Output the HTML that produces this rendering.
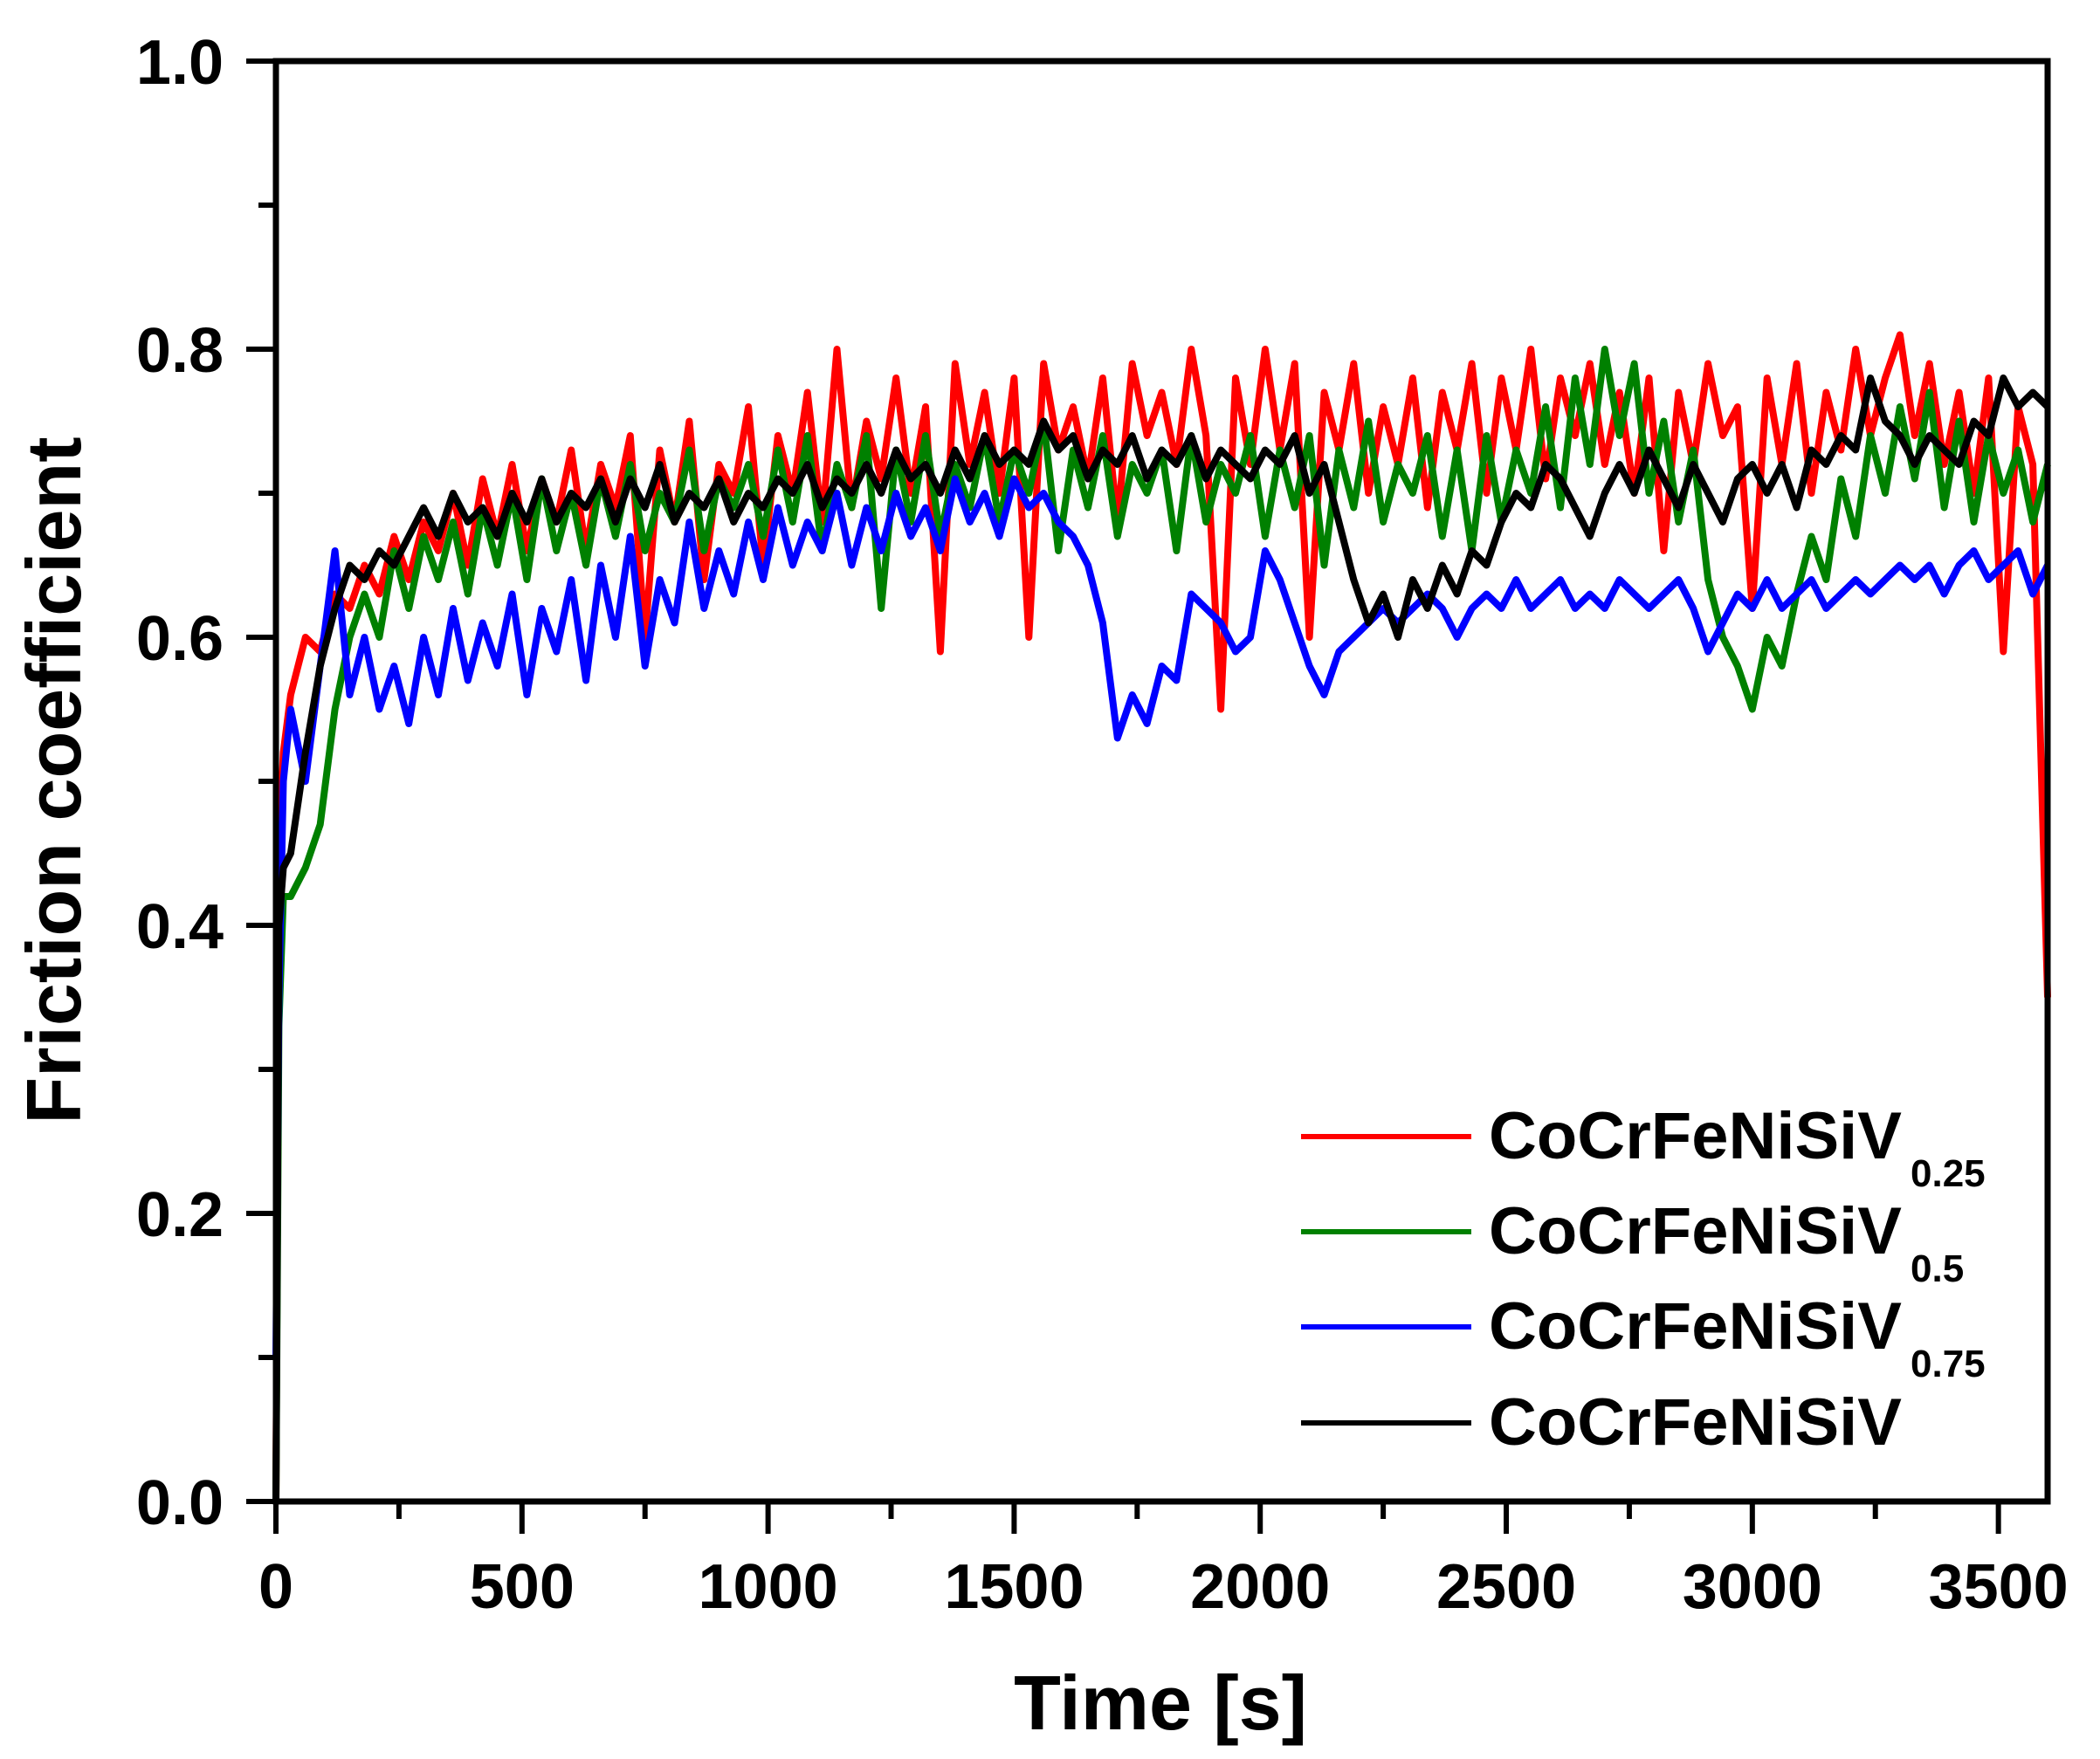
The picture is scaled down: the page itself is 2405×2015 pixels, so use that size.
<!DOCTYPE html>
<html><head><meta charset="utf-8"><style>
html,body{margin:0;padding:0;background:#fff;}
svg{display:block;font-family:"Liberation Sans",Arial,sans-serif;font-weight:bold;}
</style></head><body>
<svg id="chart" width="2405" height="2015" viewBox="0 0 2405 2015" xmlns="http://www.w3.org/2000/svg">
<g id="series"></g>
<g id="axes"></g>
<text x="1329" y="1981" font-size="88" text-anchor="middle">Time [s]</text>
<text transform="translate(92,894) rotate(-90)" font-size="88" text-anchor="middle">Friction coefficient</text>
<g id="legend"></g>
</svg>
<script>
const xTicks=[0,500,1000,1500,2000,2500,3000,3500];
const yTicks=[0.0,0.2,0.4,0.6,0.8,1.0];
const yTickLabels=["0.0","0.2","0.4","0.6","0.8","1.0"];
const seriesNames=["CoCrFeNiSiV","CoCrFeNiSiV","CoCrFeNiSiV","CoCrFeNiSiV"];
const seriesSubs=["0.25","0.5","0.75",""];
const seriesColors=["#ff0000","#008000","#0000ff","#000000"];
const times=[0,6,15];
for(let k=1;k<=120;k++){times.push(30*k);}
const red=[0,0.45,0.52,
0.56,0.60,0.59,0.63,0.62,0.65,0.63,0.67,0.64,0.68,
0.66,0.70,0.65,0.71,0.67,0.72,0.66,0.71,0.68,0.73,
0.66,0.72,0.69,0.74,0.60,0.73,0.68,0.75,0.64,0.72,
0.70,0.76,0.65,0.74,0.70,0.77,0.68,0.80,0.69,0.75,
0.71,0.78,0.70,0.76,0.59,0.79,0.72,0.77,0.70,0.78,
0.60,0.79,0.73,0.76,0.71,0.78,0.68,0.79,0.74,0.77,
0.72,0.80,0.74,0.55,0.78,0.72,0.80,0.73,0.79,0.60,
0.77,0.73,0.79,0.70,0.76,0.72,0.78,0.69,0.77,0.73,
0.79,0.70,0.78,0.73,0.80,0.71,0.78,0.74,0.79,0.72,
0.77,0.70,0.78,0.66,0.77,0.72,0.79,0.74,0.76,0.62,
0.78,0.72,0.79,0.70,0.77,0.73,0.80,0.74,0.78,0.81,
0.74,0.79,0.72,0.77,0.70,0.78,0.59,0.76,0.72,0.35];
const green=[0,0.33,0.42,
0.42,0.44,0.47,0.55,0.60,0.63,0.60,0.66,0.62,0.67,
0.64,0.68,0.63,0.69,0.65,0.70,0.64,0.71,0.66,0.70,
0.65,0.71,0.67,0.72,0.66,0.70,0.68,0.73,0.66,0.71,
0.69,0.72,0.67,0.73,0.68,0.74,0.66,0.72,0.69,0.74,
0.62,0.73,0.68,0.74,0.67,0.72,0.69,0.74,0.68,0.73,
0.70,0.75,0.66,0.73,0.69,0.74,0.67,0.72,0.70,0.73,
0.66,0.74,0.68,0.72,0.70,0.74,0.67,0.73,0.69,0.74,
0.65,0.73,0.69,0.75,0.68,0.72,0.70,0.74,0.67,0.73,
0.66,0.74,0.68,0.73,0.70,0.76,0.69,0.78,0.72,0.80,
0.74,0.79,0.70,0.75,0.68,0.73,0.64,0.60,0.58,0.55,
0.60,0.58,0.63,0.67,0.64,0.71,0.67,0.74,0.70,0.76,
0.71,0.77,0.69,0.75,0.68,0.74,0.70,0.73,0.68,0.72];
const blue=[0.1,0.35,0.50,
0.55,0.50,0.58,0.66,0.56,0.60,0.55,0.58,0.54,0.60,
0.56,0.62,0.57,0.61,0.58,0.63,0.56,0.62,0.59,0.64,
0.57,0.65,0.60,0.67,0.58,0.64,0.61,0.68,0.62,0.66,
0.63,0.68,0.64,0.69,0.65,0.68,0.66,0.70,0.65,0.69,
0.66,0.70,0.67,0.69,0.66,0.71,0.68,0.70,0.67,0.71,
0.69,0.70,0.68,0.67,0.65,0.61,0.53,0.56,0.54,0.58,
0.57,0.63,0.62,0.61,0.59,0.60,0.66,0.64,0.61,0.58,
0.56,0.59,0.60,0.61,0.62,0.61,0.62,0.63,0.62,0.60,
0.62,0.63,0.62,0.64,0.62,0.63,0.64,0.62,0.63,0.62,
0.64,0.63,0.62,0.63,0.64,0.62,0.59,0.61,0.63,0.62,
0.64,0.62,0.63,0.64,0.62,0.63,0.64,0.63,0.64,0.65,
0.64,0.65,0.63,0.65,0.66,0.64,0.65,0.66,0.63,0.65];
const black=[0,0.40,0.44,
0.45,0.52,0.58,0.62,0.65,0.64,0.66,0.65,0.67,0.69,
0.67,0.70,0.68,0.69,0.67,0.70,0.68,0.71,0.68,0.70,
0.69,0.71,0.68,0.71,0.69,0.72,0.68,0.70,0.69,0.71,
0.68,0.70,0.69,0.71,0.70,0.72,0.69,0.71,0.70,0.72,
0.70,0.73,0.71,0.72,0.70,0.73,0.71,0.74,0.72,0.73,
0.72,0.75,0.73,0.74,0.71,0.73,0.72,0.74,0.71,0.73,
0.72,0.74,0.71,0.73,0.72,0.71,0.73,0.72,0.74,0.70,
0.72,0.68,0.64,0.61,0.63,0.60,0.64,0.62,0.65,0.63,
0.66,0.65,0.68,0.70,0.69,0.72,0.71,0.69,0.67,0.70,
0.72,0.70,0.73,0.71,0.69,0.72,0.70,0.68,0.71,0.72,
0.70,0.72,0.69,0.73,0.72,0.74,0.73,0.78,0.75,0.74,
0.72,0.74,0.73,0.72,0.75,0.74,0.78,0.76,0.77,0.76];
const allSeries=[red,green,blue,black];

const L=316,R=2345,T=70,B=1720,XMAX=3600;
function xs(v){return L+(R-L)*v/XMAX;}
function ys(v){return B-(B-T)*v;}
const NS="http://www.w3.org/2000/svg";
function mk(tag,attrs,parent){const e=document.createElementNS(NS,tag);for(const k in attrs)e.setAttribute(k,attrs[k]);parent.appendChild(e);return e;}

const sg=document.getElementById('series');
const serKeys=["series-v025","series-v05","series-v075","series-v1"];
allSeries.forEach((arr,i)=>{
  let d='';
  arr.forEach((v,j)=>{d+=(j?'L':'M')+xs(times[j]).toFixed(1)+','+ys(v).toFixed(1);});
  const p=mk('path',{d:d,fill:'none',stroke:seriesColors[i],'stroke-width':8,'stroke-linejoin':'round'},sg);
  
  
});

const ax=document.getElementById('axes');
const frame=mk('rect',{x:L,y:T,width:R-L,height:B-T,fill:'none',stroke:'#000','stroke-width':7},ax);


xTicks.forEach(v=>{
  const t=mk('line',{x1:xs(v),x2:xs(v),y1:B,y2:B+37,stroke:'#000','stroke-width':6},ax);
  
  
  const m=mk('line',{x1:xs(v+250),x2:xs(v+250),y1:B,y2:B+20,stroke:'#000','stroke-width':6},ax);
  
  
  const lb=mk('text',{x:xs(v),y:1842,'font-size':72,'text-anchor':'middle'},ax);
  lb.textContent=String(v);
  
  
});
yTicks.forEach((v,i)=>{
  const t=mk('line',{x1:L-34,x2:L,y1:ys(v),y2:ys(v),stroke:'#000','stroke-width':6},ax);
  
  
  if(v<1){
    const m=mk('line',{x1:L-20,x2:L,y1:ys(v+0.1),y2:ys(v+0.1),stroke:'#000','stroke-width':6},ax);
    
    
  }
  const lb=mk('text',{x:256,y:ys(v)+26,'font-size':72,'text-anchor':'end'},ax);
  lb.textContent=yTickLabels[i];
  
  
});

const lg=document.getElementById('legend');
const legY=[1302,1411,1520,1630];
seriesNames.forEach((n,i)=>{
  const l=mk('line',{x1:1490,x2:1685,y1:legY[i],y2:legY[i],stroke:seriesColors[i],'stroke-width':6},lg);
  
  
  const tx=mk('text',{x:1705,y:legY[i]+25,'font-size':76},lg);
  tx.textContent=n;
  
  
  if(seriesSubs[i]){
    const s=mk('text',{x:2188,y:legY[i]+57,'font-size':44},lg);
    s.textContent=seriesSubs[i];
    
    
  }
});
</script>
</body></html>
